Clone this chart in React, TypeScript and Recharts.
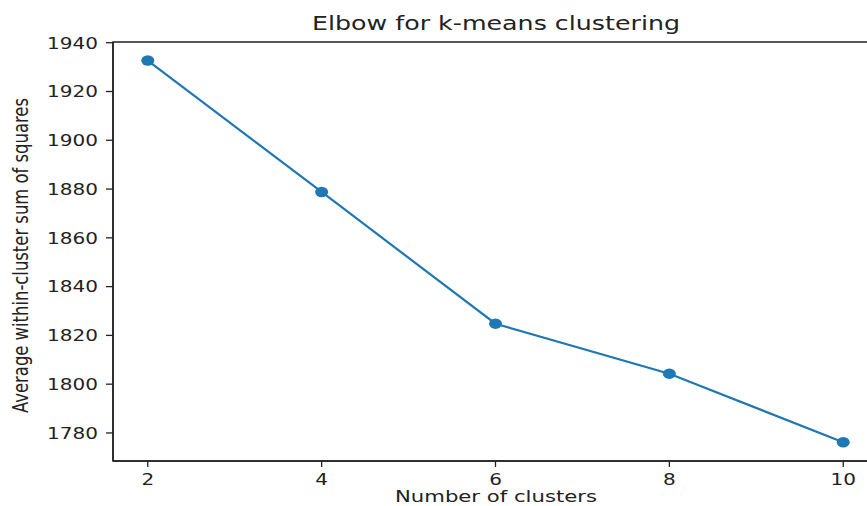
import React from "react";
import { LineChart, Line, XAxis, YAxis, ReferenceArea } from "recharts";

const clusters = [2, 4, 6, 8, 10];
const avgWithinSS = [1932.7, 1878.8, 1824.8, 1804.3, 1776.2];
const xTicks = [2, 4, 6, 8, 10];
const yTicks = [1780, 1800, 1820, 1840, 1860, 1880, 1900, 1920, 1940];

const data = clusters.map((k, i) => ({ k, wss: avgWithinSS[i] }));

const X_DOMAIN: [number, number] = [1.6, 10.4];
const Y_DOMAIN: [number, number] = [1768.5, 1940.3];
const FONT = "DejaVu Sans, sans-serif";
const INK = "#222";
const BLUE = "#1f77b4";

// matplotlib output here is stretched a bit horizontally
const STRETCH = 1.25;

function XTick({ x, y, payload }: any) {
  return (
    <text
      transform={`translate(${x} ${y}) scale(${STRETCH} 1)`}
      textAnchor="middle"
      dy="0.71em"
      fontFamily={FONT}
      fontSize={16}
      fill={INK}
    >
      {payload.value}
    </text>
  );
}

function YTick({ x, y, payload }: any) {
  return (
    <text
      transform={`translate(${x} ${y}) scale(${STRETCH} 1)`}
      textAnchor="end"
      dy="0.36em"
      fontFamily={FONT}
      fontSize={16}
      fill={INK}
    >
      {payload.value}
    </text>
  );
}

function Dot({ cx, cy }: any) {
  if (cx == null || cy == null) return null;
  return <ellipse cx={cx} cy={cy} rx={6.5} ry={5.2} fill={BLUE} />;
}

export default function App() {
  return (
    <div
      style={{
        position: "fixed",
        left: 0,
        top: 0,
        width: 867,
        height: 506,
        overflow: "hidden",
        background: "#fff",
      }}
    >
      <LineChart
        width={880}
        height={506}
        data={data}
        margin={{ top: 42, right: 2, bottom: 0, left: 0 }}
      >
        <XAxis
          dataKey="k"
          type="number"
          domain={X_DOMAIN}
          ticks={xTicks}
          allowDataOverflow
          height={45}
          tickSize={6}
          tickMargin={7}
          stroke={INK}
          strokeWidth={1.5}
          tick={<XTick />}
          tickLine={{ stroke: INK, strokeWidth: 1.3 }}
        />
        <YAxis
          type="number"
          domain={Y_DOMAIN}
          ticks={yTicks}
          allowDataOverflow
          width={113}
          tickSize={7}
          tickMargin={8}
          stroke={INK}
          strokeWidth={1.5}
          tick={<YTick />}
          tickLine={{ stroke: INK, strokeWidth: 1.3 }}
        />
        <ReferenceArea
          x1={X_DOMAIN[0]}
          x2={X_DOMAIN[1]}
          y1={Y_DOMAIN[0]}
          y2={Y_DOMAIN[1]}
          fill="none"
          stroke={INK}
          strokeWidth={1.5}
          fillOpacity={0}
        />
        <Line
          dataKey="wss"
          stroke={BLUE}
          strokeWidth={2.2}
          dot={<Dot />}
          activeDot={false}
          isAnimationActive={false}
        />
      </LineChart>
      <svg
        width={867}
        height={506}
        style={{ position: "absolute", left: 0, top: 0, pointerEvents: "none" }}
      >
        <text
          x={496}
          y={30}
          textAnchor="middle"
          fontFamily={FONT}
          fontSize={19}
          fill={INK}
          textLength={368}
          lengthAdjust="spacingAndGlyphs"
        >
          Elbow for k-means clustering
        </text>
        <text
          x={496}
          y={502}
          textAnchor="middle"
          fontFamily={FONT}
          fontSize={15}
          fill={INK}
          textLength={202}
          lengthAdjust="spacingAndGlyphs"
        >
          Number of clusters
        </text>
        <text
          transform={`translate(20.3 255.5) scale(1.29 1) rotate(-90)`}
          textAnchor="middle"
          dy="0.35em"
          fontFamily={FONT}
          fontSize={17}
          fill={INK}
          textLength={315}
          lengthAdjust="spacingAndGlyphs"
        >
          Average within-cluster sum of squares
        </text>
      </svg>
    </div>
  );
}
